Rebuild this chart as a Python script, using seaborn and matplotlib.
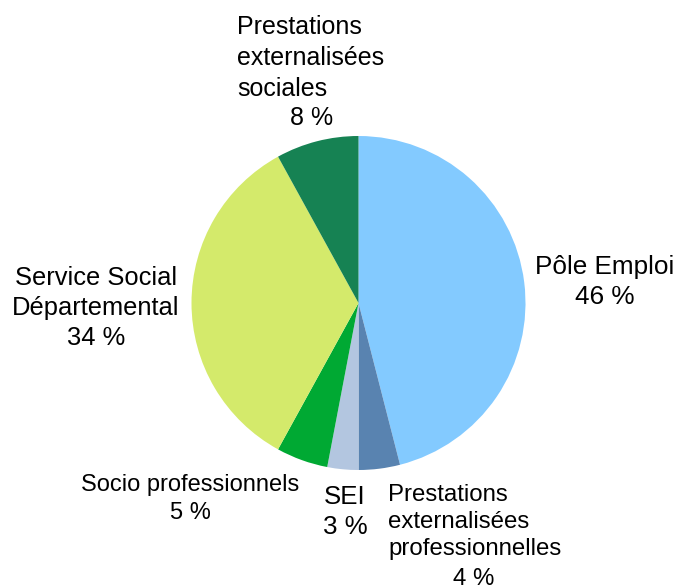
import matplotlib
matplotlib.use("Agg")
import matplotlib.pyplot as plt
import seaborn as sns

sns.set_theme(style="white")
plt.rcParams['font.family'] = ['Liberation Sans', 'DejaVu Sans']

# ---- data ----
categories = ["Pôle Emploi",
              "Prestations\nexternalisées\nprofessionnelles",
              "SEI",
              "Socio professionnels",
              "Service Social\nDépartemental",
              "Prestations\nexternalisées\nsociales"]
values = [46, 4, 3, 5, 34, 8]
pct_labels = ["46 %", "4 %", "3 %", "5 %", "34 %", "8 %"]
colors = ["#83CAFF", "#5983B0", "#B3C6E0", "#00A933", "#D4EA6B", "#168253"]

# ---- layout (pixel coordinates, image y downward) ----
W, H = 677, 585
center = (358.5, 303)
radius = 167
# (name x, name y-center, name ha, multialign, pct x, pct y, fontsize, linespacing)
layout = [
    (605, 267, "center", "center", 605, 297, 18.8, 1.3),
    (388, 522, "left", "left", 474, 579, 17.3, 1.3),
    (345, 497, "center", "center", 345, 527, 18.6, 1.3),
    (190, 485, "center", "center", 190, 513, 17.0, 1.3),
    (96, 293, "center", "center", 96, 338, 18.4, 1.3),
    (237, 58, "left", "left", 312, 118, 18.0, 1.36),
]

fig = plt.figure(figsize=(W / 100, H / 100), dpi=100)
ax = fig.add_axes([0, 0, 1, 1])
ax.set_xlim(0, W)
ax.set_ylim(0, H)
ax.set_aspect("equal")
ax.axis("off")

ax.pie(values, colors=colors, startangle=90, counterclock=False,
       center=(center[0], H - center[1]), radius=radius,
       wedgeprops=dict(linewidth=0, antialiased=True), frame=False)
ax.set_xlim(0, W)
ax.set_ylim(0, H)

for name, pct, (nx, ny, ha, ma, px, py, fs, ls) in zip(categories, pct_labels, layout):
    ax.text(nx, H - ny, name, ha=ha, va="center", multialignment=ma,
            fontsize=fs, linespacing=ls, color="black")
    ax.text(px, H - py, pct, ha="center", va="center", fontsize=fs, color="black")

fig.savefig("out.png", dpi=100)
